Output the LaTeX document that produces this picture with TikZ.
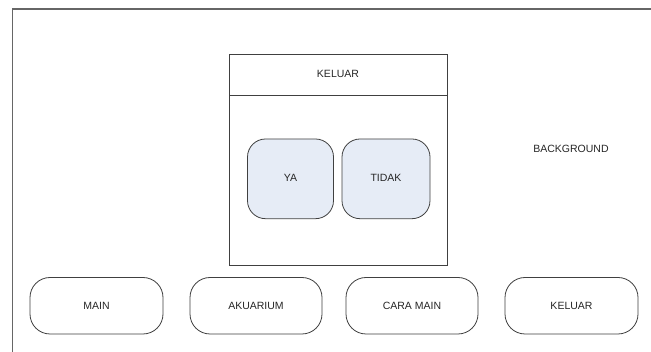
\documentclass[tikz,border=0pt]{standalone}
\usepackage{fontspec}
\setmainfont{Liberation Sans}
\definecolor{optfill}{RGB}{230,236,246}
\begin{document}
\begin{tikzpicture}[x=1pt,y=-1pt,
  lbl/.style={font=\fontsize{10.5}{12}\selectfont, text=black!85},
  btn/.style={draw=black!75, line width=0.8pt, rounded corners=20pt, fill=white},
  opt/.style={draw=black!75, line width=0.8pt, rounded corners=18pt, fill=optfill},
  box/.style={draw=black!75, line width=0.9pt}]
\useasboundingbox (0,0) rectangle (651,352);
\fill[white] (0,0) rectangle (651,352);
% outer frame
\draw[black!60, line width=1.2pt] (12.5,360) -- (12.5,9) -- (660,9);
% dialog
\draw[box] (229.5,54.5) rectangle (447,265.5);
\draw[box] (229.5,95.7) -- (447,95.7);
\node[lbl] (hdr) at (338,74) {KELUAR};
% options
\draw[opt] (247.5,139) rectangle (333.5,218.7);
\node[lbl] (ya) at (290.5,178) {YA};
\draw[opt] (342,139) rectangle (430,218.7);
\node[lbl] (tidak) at (386,178) {TIDAK};
% background label
\node[lbl] (bg) at (571,149) {BACKGROUND};
% buttons
\draw[btn] (30,277.5) rectangle (163,334);
\node[lbl] (main) at (96.5,305.5) {MAIN};
\draw[btn] (190,277.5) rectangle (322,334);
\node[lbl] (aku) at (256,305.5) {AKUARIUM};
\draw[btn] (346,277.5) rectangle (478,334);
\node[lbl] (cara) at (412,305.5) {CARA MAIN};
\draw[btn] (505,277.5) rectangle (638,334);
\node[lbl] (kel) at (571.5,305.5) {KELUAR};
\end{tikzpicture}
\end{document}
